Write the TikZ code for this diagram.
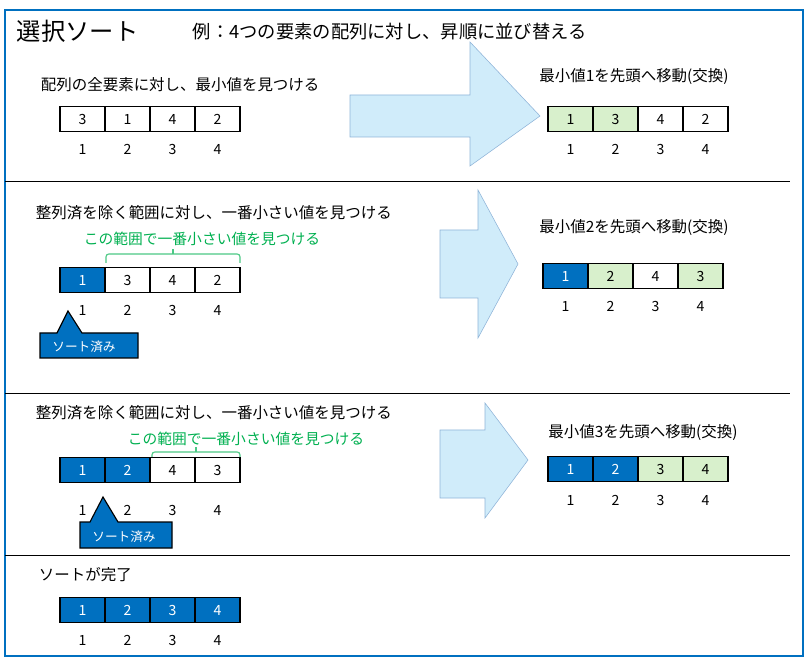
\documentclass[tikz,border=0pt]{standalone}
\usepackage{fontspec}
\setmainfont{Noto Sans CJK JP}
\definecolor{frameblue}{HTML}{0070C0}
\definecolor{doneblue}{HTML}{0070C0}
\definecolor{lightgreen}{HTML}{D8F0CC}
\definecolor{rangegreen}{HTML}{00B050}
\definecolor{arrowfill}{HTML}{D0ECFA}
\definecolor{arrowline}{HTML}{8FB4D8}
\tikzset{
  cell/.style={draw, thick, minimum width=1.125cm, minimum height=0.62cm, inner sep=0pt, font=\normalsize},
  idx/.style={font=\normalsize},
  caption/.style={anchor=west, font=\fontsize{11}{13}\selectfont},
  result/.style={font=\fontsize{11}{13}\selectfont},
  rangetext/.style={font=\fontsize{10.5}{12}\selectfont, text=rangegreen},
  bigarrow/.style={draw=arrowline, fill=arrowfill},
  bracket/.style={draw=rangegreen!70, thick, rounded corners=2pt},
  tag/.style={draw, thick, fill=doneblue, text=white, font=\small}
}
% one row of four cells plus their indices (value/fill/text)
\newcommand{\cellrow}[5]{%
  \foreach \v/\c/\t [count=\i] in {#4} {
    \node[cell, fill=\c, text=\t] (#1c\i) at (#2+45*\i-22.5, #3) {\v};
    \node[idx] (#1i\i) at (#2+45*\i-22.5, #5) {\i};
  }}
\begin{document}
\begin{tikzpicture}[x=0.025cm, y=-0.025cm]
\useasboundingbox (0,0) rectangle (808,661);
% frame and separators
\draw[frameblue, line width=1.2pt] (5,10) rectangle (803,656);
\draw (5,181) -- (790,181);
\draw (5,393) -- (790,393);
\draw (5,555) -- (790,555);

% titles
\node[anchor=west, font=\LARGE] (title) at (12,31) {選択ソート};
\node[anchor=west, font=\fontsize{13}{15}\selectfont] (sub) at (188,32) {例：4つの要素の配列に対し、昇順に並び替える};

% step 1
\node[caption] (t1) at (36,85) {配列の全要素に対し、最小値を見つける};
\cellrow{a}{60}{119}{3/white/black,1/white/black,4/white/black,2/white/black}{149}
\draw[bigarrow] (350,95) -- (470,95) -- (470,42) -- (540,116) -- (470,166) -- (470,137) -- (350,137) -- cycle;
\node[result] (r1) at (634,77) {最小値1を先頭へ移動(交換)};
\cellrow{b}{548}{119}{1/lightgreen/black,3/lightgreen/black,4/white/black,2/white/black}{149}

% step 2
\node[caption] (t2) at (31,213) {整列済を除く範囲に対し、一番小さい値を見つける};
\node[rangetext] (g2) at (202,239) {この範囲で一番小さい値を見つける};
\draw[bracket] (106,263) -- (106,254) -- (240,254) -- (240,263);
\draw[rangegreen!70, thick] (173,254) -- (173,249);
\cellrow{c}{60}{280}{1/doneblue/white,3/white/black,4/white/black,2/white/black}{310}
\draw[tag] (40,333) -- (57,333) -- (68,311) -- (82,333) -- (138,333) -- (138,358) -- (40,358) -- cycle;
\node[text=white, font=\small] (s2) at (84,347) {ソート済み};
\draw[bigarrow] (440,230) -- (478,230) -- (478,190) -- (518,264) -- (478,338) -- (478,298) -- (440,298) -- cycle;
\node[result] (r2) at (634,228) {最小値2を先頭へ移動(交換)};
\cellrow{d}{543}{276}{1/doneblue/white,2/lightgreen/black,4/white/black,3/lightgreen/black}{306}

% step 3
\node[caption] (t3) at (31,413) {整列済を除く範囲に対し、一番小さい値を見つける};
\node[rangetext] (g3) at (246,439) {この範囲で一番小さい値を見つける};
\draw[bracket] (152,460) -- (152,452) -- (240,452) -- (240,460);
\draw[rangegreen!70, thick] (196,452) -- (196,447);
\cellrow{e}{60}{470}{1/doneblue/white,2/doneblue/white,4/white/black,3/white/black}{510}
\draw[tag] (80,522) -- (90,522) -- (103,497) -- (118,522) -- (172,522) -- (172,548) -- (80,548) -- cycle;
\node[text=white, font=\small] (s3) at (124,537) {ソート済み};
\draw[bigarrow] (440,430) -- (485,430) -- (485,403) -- (528,460) -- (485,518) -- (485,498) -- (440,498) -- cycle;
\node[result] (r3) at (643,433) {最小値3を先頭へ移動(交換)};
\cellrow{f}{548}{469}{1/doneblue/white,2/doneblue/white,3/lightgreen/black,4/lightgreen/black}{500}

% done
\node[caption] (t4) at (34,575) {ソートが完了};
\cellrow{g}{60}{610}{1/doneblue/white,2/doneblue/white,3/doneblue/white,4/doneblue/white}{640}
\end{tikzpicture}
\end{document}
